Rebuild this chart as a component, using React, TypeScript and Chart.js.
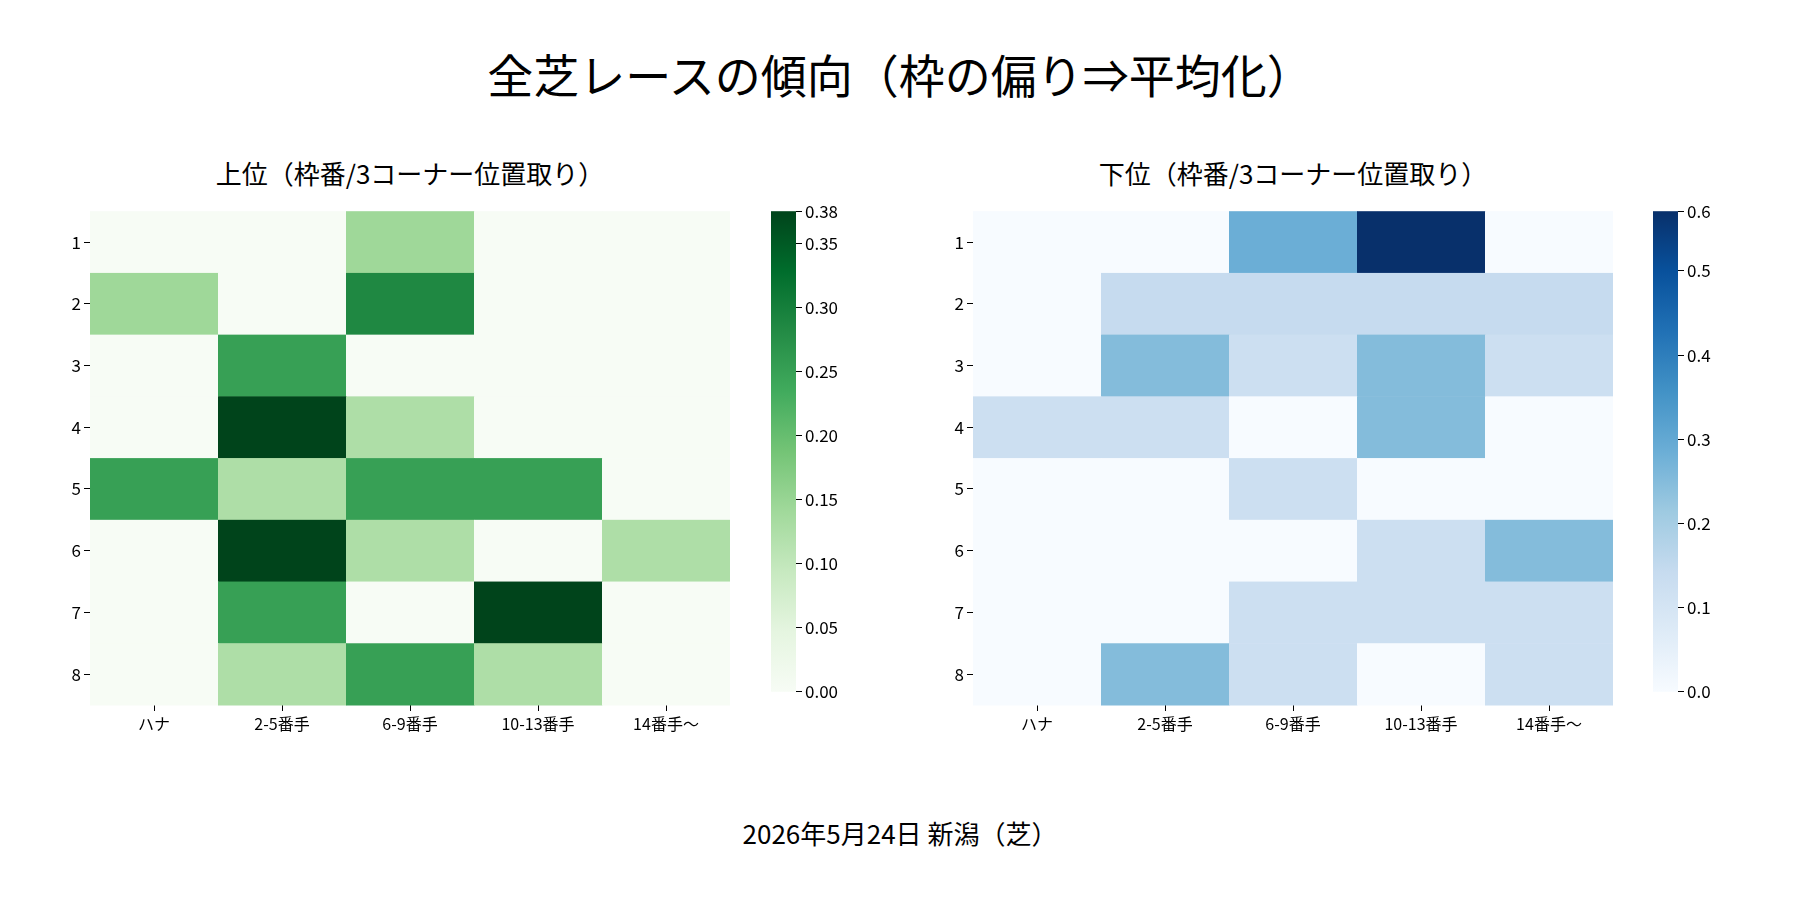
import React, { useEffect, useRef } from "react";
import { Chart, registerables } from "chart.js";
Chart.register(...registerables);

const categories = ["ハナ", "2-5番手", "6-9番手", "10-13番手", "14番手〜"];
const rowLabels = ["1", "2", "3", "4", "5", "6", "7", "8"];
const topValues = [
  [0, 0, 0.143, 0, 0],
  [0.143, 0, 0.286, 0, 0],
  [0, 0.25, 0, 0, 0],
  [0, 0.375, 0.125, 0, 0],
  [0.25, 0.125, 0.25, 0.25, 0],
  [0, 0.375, 0.125, 0, 0.125],
  [0, 0.25, 0, 0.375, 0],
  [0, 0.125, 0.25, 0.125, 0],
];
const bottomValues = [
  [0, 0, 0.286, 0.571, 0],
  [0, 0.143, 0.143, 0.143, 0.143],
  [0, 0.25, 0.125, 0.25, 0.125],
  [0.125, 0.125, 0, 0.25, 0],
  [0, 0, 0.125, 0, 0],
  [0, 0, 0, 0.125, 0.25],
  [0, 0, 0.125, 0.125, 0.125],
  [0, 0.25, 0.125, 0, 0.125],
];
const greens = ["#f7fcf5", "#e5f5e0", "#c7e9c0", "#a1d99b", "#74c476", "#41ab5d", "#238b45", "#006d2c", "#00441b"];
const blues = ["#f7fbff", "#deebf7", "#c6dbef", "#9ecae1", "#6baed6", "#4292c6", "#2171b5", "#08519c", "#08306b"];

const FONT = "'Noto Sans CJK JP', 'Noto Sans', sans-serif";

function hex(c: string) {
  return [1, 3, 5].map((i) => parseInt(c.slice(i, i + 2), 16));
}
function cmap(stops: string[], t: number) {
  t = Math.max(0, Math.min(1, t));
  const p = t * (stops.length - 1);
  const i = Math.min(stops.length - 2, Math.floor(p));
  const f = p - i;
  const a = hex(stops[i]), b = hex(stops[i + 1]);
  const c = a.map((v, k) => Math.round(v + (b[k] - v) * f));
  return `rgb(${c[0]},${c[1]},${c[2]})`;
}

function Heatmap({ values, stops, vmax, left }: any) {
  const ref = useRef<HTMLCanvasElement>(null);
  useEffect(() => {
    const data: any[] = [];
    values.forEach((row: number[], r: number) => row.forEach((v, c) => data.push({ x: c, y: r, v })));
    const chart = new Chart(ref.current!, {
      type: "scatter",
      data: { datasets: [{ data, pointRadius: 0 }] },
      options: {
        animation: false, responsive: false, maintainAspectRatio: false,
        layout: { padding: 0 },
        plugins: { legend: { display: false }, tooltip: { enabled: false } },
        scales: {
          x: {
            type: "linear", min: -0.5, max: 4.5,
            afterBuildTicks: (s: any) => { s.ticks = categories.map((_, i) => ({ value: i })); },
            afterFit: (s: any) => { s.height = 50; },
            ticks: { callback: (v: any) => categories[v], color: "#000", font: { family: FONT, size: 16 }, autoSkip: false, maxRotation: 0 },
            grid: { drawOnChartArea: false, drawTicks: true, tickLength: 6, color: "#000" },
            border: { display: false },
          },
          y: {
            type: "linear", min: -0.5, max: 7.5, reverse: true,
            afterBuildTicks: (s: any) => { s.ticks = rowLabels.map((_, i) => ({ value: i })); },
            afterFit: (s: any) => { s.width = 50; },
            ticks: { callback: (v: any) => rowLabels[v], color: "#000", font: { family: FONT, size: 17 }, autoSkip: false },
            grid: { drawOnChartArea: false, drawTicks: true, tickLength: 6, color: "#000" },
            border: { display: false },
          },
        },
      },
      plugins: [{
        id: "cells",
        beforeDatasetsDraw(ch: any) {
          const { ctx, scales: { x, y } } = ch;
          ch.data.datasets[0].data.forEach((d: any) => {
            const x0 = x.getPixelForValue(d.x - 0.5), x1 = x.getPixelForValue(d.x + 0.5);
            const y0 = y.getPixelForValue(d.y - 0.5), y1 = y.getPixelForValue(d.y + 0.5);
            ctx.fillStyle = cmap(stops, d.v / vmax);
            ctx.fillRect(x0, y0, x1 - x0 + 0.5, y1 - y0 + 0.5);
          });
        },
      }],
    } as any);
    return () => chart.destroy();
  }, []);
  return <canvas ref={ref} width={690} height={557} style={{ position: "absolute", left, top: 198, width: 690, height: 557 }} />;
}

function ColorBar({ stops, vmax, step, dec, left }: any) {
  const ref = useRef<HTMLCanvasElement>(null);
  useEffect(() => {
    const chart = new Chart(ref.current!, {
      type: "scatter",
      data: { datasets: [{ data: [], pointRadius: 0 }] },
      options: {
        animation: false, responsive: false, maintainAspectRatio: false,
        layout: { padding: 0 },
        plugins: { legend: { display: false }, tooltip: { enabled: false } },
        scales: {
          x: { display: false, min: 0, max: 1 },
          y: {
            type: "linear", position: "right", min: 0, max: vmax,
            afterFit: (s: any) => { s.width = 75; },
            ticks: { stepSize: step, callback: (v: any) => Number(v).toFixed(dec), color: "#000", font: { family: FONT, size: 17 } },
            grid: { drawOnChartArea: false, drawTicks: true, tickLength: 6, color: "#000" },
            border: { display: false },
          },
        },
      },
      plugins: [{
        id: "grad",
        beforeDatasetsDraw(ch: any) {
          const { ctx, chartArea: a } = ch;
          const g = ctx.createLinearGradient(0, a.bottom, 0, a.top);
          stops.forEach((s: string, i: number) => g.addColorStop(i / (stops.length - 1), s));
          ctx.fillStyle = g;
          ctx.fillRect(a.left, a.top, a.right - a.left, a.bottom - a.top);
        },
      }],
    } as any);
    return () => chart.destroy();
  }, []);
  return <canvas ref={ref} width={100} height={507} style={{ position: "absolute", left, top: 198, width: 100, height: 507 }} />;
}

const txt = (s: string, left: number, top: number, size: number, w: number) => (
  <div style={{ position: "absolute", left, top, width: w, textAlign: "center", fontSize: size, fontFamily: FONT, lineHeight: 1, whiteSpace: "nowrap" }}>{s}</div>
);

export default function App() {
  useEffect(() => { document.body.style.margin = "0"; }, []);
  return (
    <div style={{ position: "absolute", left: 0, top: 0, width: 1800, height: 900, background: "#fff", overflow: "hidden" }}>
      {txt("全芝レースの傾向（枠の偏り⇒平均化）", 0, 50, 46, 1800)}
      {txt("上位（枠番/3コーナー位置取り）", 90, 160, 26, 640)}
      {txt("下位（枠番/3コーナー位置取り）", 973, 160, 26, 640)}
      {txt("2026年5月24日 新潟（芝）", 0, 820, 26, 1800)}
      <Heatmap values={topValues} stops={greens} vmax={0.375} left={40} />
      <Heatmap values={bottomValues} stops={blues} vmax={0.571} left={923} />
      <ColorBar stops={greens} vmax={0.375} step={0.05} dec={2} left={771} />
      <ColorBar stops={blues} vmax={0.571} step={0.1} dec={1} left={1653} />
    </div>
  );
}
